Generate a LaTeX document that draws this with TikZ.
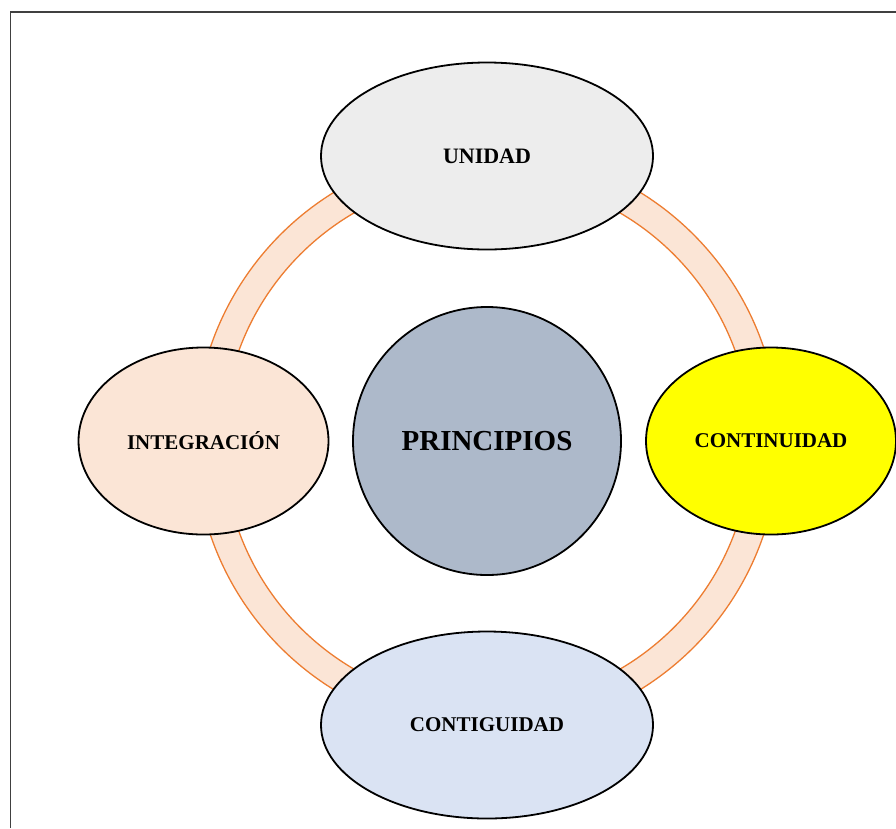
\documentclass[tikz,border=0pt]{standalone}
\usepackage{fontspec}
\setmainfont{Liberation Serif}
\usetikzlibrary{shapes.geometric}
\definecolor{ringline}{HTML}{ED7D31}
\definecolor{ringfill}{HTML}{FBE5D6}
\definecolor{unifill}{HTML}{EDEDED}
\definecolor{prinfill}{HTML}{ADB9CA}
\definecolor{contfill}{HTML}{FFFF00}
\definecolor{integfill}{HTML}{FBE5D6}
\definecolor{contigfill}{HTML}{DAE3F3}
\definecolor{framecol}{HTML}{404040}
\tikzset{
  bubble/.style={ellipse, draw=black, line width=1.8pt, inner sep=0pt,
    minimum width=332pt, minimum height=187pt, font=\bfseries\fontsize{21}{24}\selectfont},
  sidebubble/.style={bubble, minimum width=250pt},
  hub/.style={circle, draw=black, line width=1.8pt, inner sep=0pt,
    minimum size=268pt, font=\bfseries\fontsize{29}{32}\selectfont},
  ringedge/.style={draw=ringline, line width=1.3pt}
}
\begin{document}
\begin{tikzpicture}[x=1pt,y=-1pt]
\useasboundingbox (0,0) rectangle (896,828);
\fill[white] (0,0) rectangle (896,828);
\draw[framecol, line width=1.3pt] (10.5,828) -- (10.5,12) -- (896,12);
\coordinate (c) at (487,441);
\fill[ringfill, even odd rule] (c) circle [radius=292pt] (c) circle [radius=264pt];
\draw[ringedge] (c) circle [radius=292pt];
\draw[ringedge] (c) circle [radius=264pt];
\node[hub, fill=prinfill] (prin) at (487,441) {PRINCIPIOS};
\node[bubble, fill=unifill, font=\bfseries\fontsize{22}{24}\selectfont] (uni) at (487,156) {UNIDAD};
\node[sidebubble, fill=contfill] (cont) at (771,441) {CONTINUIDAD};
\node[sidebubble, fill=integfill] (integ) at (203.5,441) {INTEGRACIÓN};
\node[bubble, fill=contigfill] (contig) at (487,725) {CONTIGUIDAD};
\end{tikzpicture}
\end{document}
